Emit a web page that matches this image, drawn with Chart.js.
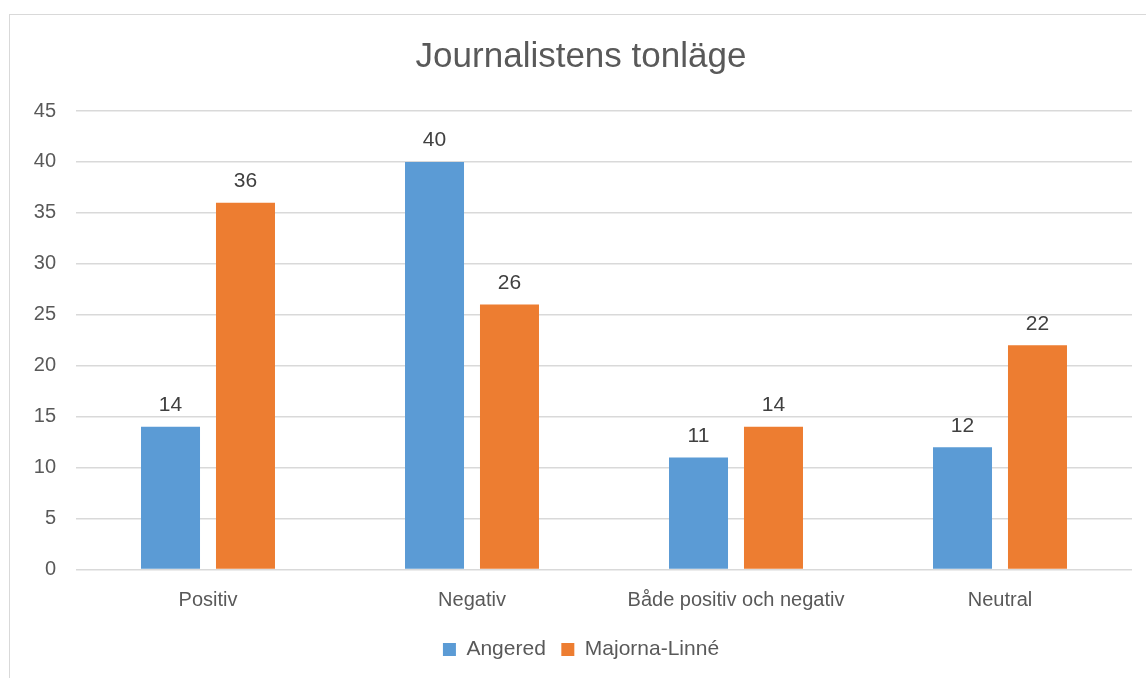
<!DOCTYPE html>
<html lang="sv">
<head>
<meta charset="UTF-8">
<title>Journalistens tonläge</title>
<script src="https://cdn.jsdelivr.net/npm/chart.js"></script>
<style>
  html, body { margin: 0; padding: 0; background: #fff; }
  #wrap { position: relative; width: 1146px; height: 678px; overflow: hidden; }
  #frame { position: absolute; left: 9px; top: 14px; width: 1150px; height: 680px; border: 1px solid #d9d9d9; box-sizing: border-box; }
  canvas { position: absolute; left: 0; top: 0; }
</style>
</head>
<body>
<div id="wrap">
  <div id="frame"></div>
  <canvas id="chart" width="1146" height="678"></canvas>
</div>
<script>
  // data
  const categories = ['Positiv', 'Negativ', 'Både positiv och negativ', 'Neutral'];
  const angered = [14, 40, 11, 12];
  const majornaLinne = [36, 26, 14, 22];
  const seriesNames = ['Angered', 'Majorna-Linné'];

  const fontFamily = '"Liberation Sans", Arial, sans-serif';
  const textColor = '#595959';

  // value labels above the bars
  const barLabels = {
    id: 'barLabels',
    afterDatasetsDraw(chart) {
      const ctx = chart.ctx;
      ctx.save();
      ctx.font = '21px ' + fontFamily;
      ctx.fillStyle = '#404040';
      ctx.textAlign = 'center';
      ctx.textBaseline = 'bottom';
      chart.data.datasets.forEach((ds, i) => {
        chart.getDatasetMeta(i).data.forEach((bar, j) => {
          ctx.fillText(ds.data[j], bar.x, bar.y - 11);
        });
      });
      ctx.restore();
    }
  };

  new Chart(document.getElementById('chart'), {
    type: 'bar',
    data: {
      labels: categories,
      datasets: [
        { label: seriesNames[0], data: angered, backgroundColor: '#5B9BD5' },
        { label: seriesNames[1], data: majornaLinne, backgroundColor: '#ED7D31' }
      ]
    },
    options: {
      responsive: false,
      animation: false,
      categoryPercentage: 0.568,
      barPercentage: 0.787,
      // left padding centres title and legend on the frame like the original
      layout: { padding: { left: 30, right: 14, top: 0, bottom: 8 } },
      plugins: {
        title: {
          display: true,
          text: 'Journalistens tonläge',
          color: textColor,
          font: { family: fontFamily, size: 35, weight: 'normal' },
          padding: { top: 36, bottom: 33 }
        },
        legend: {
          position: 'bottom',
          labels: {
            color: textColor,
            font: { family: fontFamily, size: 21 },
            boxWidth: 13,
            boxHeight: 13,
            padding: 15.5
          }
        },
        tooltip: { enabled: false }
      },
      scales: {
        x: {
          grid: { display: false },
          border: { display: false },
          ticks: { color: textColor, font: { family: fontFamily, size: 20 }, padding: 11 }
        },
        y: {
          min: 0,
          max: 45,
          ticks: { stepSize: 5, color: textColor, font: { family: fontFamily, size: 20 }, padding: 20 },
          grid: { color: '#d9d9d9', lineWidth: 1.5, drawTicks: false },
          border: { display: false },
          afterFit(scale) { scale.width = 46; }
        }
      }
    },
    plugins: [barLabels]
  });
</script>
</body>
</html>
